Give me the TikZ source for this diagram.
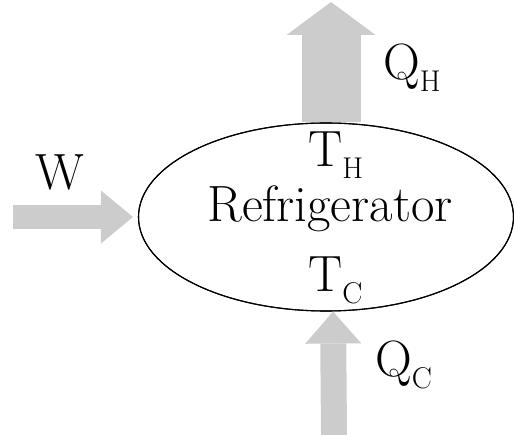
\documentclass[tikz,border=0pt]{standalone}
\usepackage{xcolor}
\usepackage{tikz}
\usetikzlibrary{positioning,arrows.meta,shapes.geometric}
\definecolor{flowgray}{RGB}{204,204,204}
\newcommand{\lowsub}[1]{\raisebox{-12pt}{\fontsize{30}{30}\selectfont #1}}

\begin{document}
\begin{tikzpicture}[
      x=1pt, y=-1pt,
      font=\fontsize{51}{51}\selectfont,
      lbl/.style={inner sep=0pt},
      engine/.style={draw, ellipse, line width=1.1pt, minimum width=375pt, minimum height=188pt, inner sep=0pt},
      flow/.style n args={3}{draw=flowgray, line width=#1, -{Triangle[width=#2, length=#3, line width=0pt]}}
    ]
    \useasboundingbox (0,0) rectangle (514,435);

    \node[engine] (fridge) at (326,217) {};

    \coordinate (qh-tip)  at (331,2);
    \coordinate (w-tail)  at (13,217);
    \coordinate (qc-tail) at (334,435);

    \draw[flow={59pt}{89pt}{33pt}] ([xshift=5pt]fridge.north) -- (qh-tip);
    \draw[flow={24pt}{53pt}{32pt}] (w-tail) -- ([xshift=-5pt]fridge.west);
    \draw[flow={26pt}{56pt}{32pt}] (qc-tail) -- ([xshift=7pt]fridge.south);
    \node[engine] at (fridge) {};

    \node[lbl, anchor=base west] (th)   at (308,167) {T\lowsub{H}};
    \node[lbl, anchor=base]      (name) at (330,222) {Refrigerator};
    \node[lbl, anchor=base west] (tc)   at (308,292) {T\lowsub{C}};

    \node[lbl, anchor=base west] (w)  at (35,190)  {W};
    \node[lbl, anchor=base west] (qh) at (383,80)  {Q\lowsub{H}};
    \node[lbl, anchor=base west] (qc) at (375,377) {Q\lowsub{C}};
  \end{tikzpicture}
\end{document}
